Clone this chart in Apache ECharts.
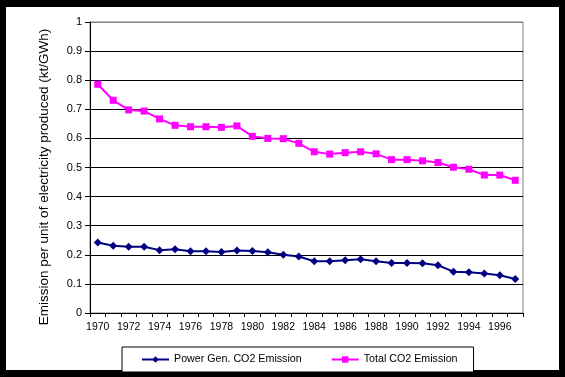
<!DOCTYPE html>
<html>
<head>
<meta charset="utf-8">
<script src="https://cdn.jsdelivr.net/npm/echarts@6/dist/echarts.min.js"></script>
<style>
html,body{margin:0;padding:0;background:#000;width:565px;height:377px;overflow:hidden;}
#frame{position:absolute;left:6px;top:7px;width:553px;height:363px;background:#fff;}
#chart{position:absolute;left:0;top:0;width:565px;height:377px;}
</style>
</head>
<body>
<div id="frame"></div>
<div id="chart"></div>
<script>
var years = ['1970','1971','1972','1973','1974','1975','1976','1977','1978','1979','1980','1981','1982','1983','1984','1985','1986','1987','1988','1989','1990','1991','1992','1993','1994','1995','1996','1997'];
var powerGen = [0.242,0.231,0.228,0.228,0.216,0.219,0.212,0.212,0.210,0.215,0.213,0.209,0.200,0.194,0.178,0.178,0.181,0.185,0.178,0.172,0.172,0.171,0.164,0.142,0.140,0.136,0.130,0.117];
var totalCO2 = [0.786,0.731,0.698,0.694,0.667,0.645,0.640,0.640,0.638,0.643,0.607,0.600,0.599,0.583,0.554,0.546,0.551,0.554,0.547,0.527,0.527,0.523,0.517,0.501,0.494,0.474,0.474,0.456];
var seriesNames = ['Power Gen. CO2 Emission','Total CO2 Emission'];
var yTitle = 'Emission per unit of electricity produced (kt/GWh)';

var chart = echarts.init(document.getElementById('chart'), null, {renderer:'canvas'});
var font = 'Liberation Sans, Arial, sans-serif';
var splitColors = ['#000','#000','#000','#000','#000','#000','#000','#000','#000','#000','#808080'];
chart.setOption({
  animation:false,
  textStyle:{fontFamily:font},
  grid:{left:90, top:22, right:42, bottom:64, show:true, borderColor:'#808080', borderWidth:1, backgroundColor:'transparent'},
  graphic:[{
    type:'text', x:44, y:177, rotation:Math.PI/2,
    style:{text:yTitle, fill:'#000', font:'13.5px Liberation Sans, Arial, sans-serif', textAlign:'center', textVerticalAlign:'middle'}
  }],
  xAxis:{
    type:'category', data:years, boundaryGap:true,
    axisLine:{lineStyle:{color:'#000', width:1}},
    axisTick:{show:true, interval:0, length:4, lineStyle:{color:'#000'}},
    axisLabel:{interval:1, color:'#000', fontSize:10.5, margin:9, fontFamily:font}
  },
  yAxis:{
    type:'value', min:0, max:1, interval:0.1,
    axisLine:{show:true, lineStyle:{color:'#000', width:1}},
    axisTick:{show:true, length:5, lineStyle:{color:'#000'}},
    axisLabel:{color:'#000', fontSize:11, margin:8, fontFamily:font},
    splitLine:{show:true, lineStyle:{color:splitColors, width:1}}
  },
  legend:{
    data:seriesNames, left:122, top:347, orient:'horizontal',
    padding:[7,16,7,19], itemGap:29, itemWidth:27, itemHeight:8,
    borderColor:'#000', borderWidth:1, backgroundColor:'#fff',
    textStyle:{color:'#000', fontSize:10.7, fontFamily:font}
  },
  series:[
    {name:seriesNames[0], type:'line', data:powerGen, symbol:'diamond', symbolSize:8,
     lineStyle:{color:'#000080', width:2}, itemStyle:{color:'#000080'}},
    {name:seriesNames[1], type:'line', data:totalCO2, symbol:'rect', symbolSize:7,
     lineStyle:{color:'#FF00FF', width:2}, itemStyle:{color:'#FF00FF'}}
  ]
});
</script>
</body>
</html>
